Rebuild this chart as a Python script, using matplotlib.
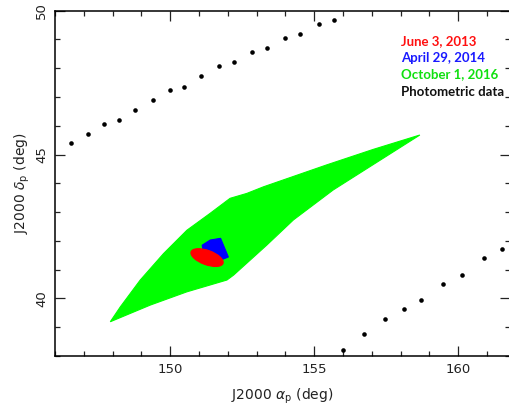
import matplotlib
matplotlib.use("Agg")
import matplotlib.pyplot as plt
from matplotlib.patches import Polygon, Ellipse
from matplotlib.ticker import MultipleLocator

# photometric data (upper and lower branches)
phot_ra = [146.57, 147.13, 147.71, 148.21, 148.79, 149.39, 149.98, 150.49, 151.08,
           151.69, 152.21, 152.83, 153.35, 153.98, 154.51, 155.16, 155.70,
           155.99, 156.73, 157.47, 158.11, 158.72, 159.49, 160.13, 160.90, 161.53]
phot_dec = [45.39, 45.72, 46.06, 46.20, 46.54, 46.90, 47.24, 47.36, 47.72,
            48.08, 48.22, 48.56, 48.71, 49.06, 49.20, 49.54, 49.68,
            38.21, 38.76, 39.30, 39.63, 39.95, 40.50, 40.82, 41.39, 41.71]

# October 1, 2016 region outline
oct_ra = [147.92, 148.27, 148.96, 149.77, 150.58, 151.39, 152.08, 152.66, 153.24,
          155.43, 157.05, 158.67, 155.66, 154.28, 153.35, 152.20, 151.97, 150.58, 149.31]
oct_dec = [39.19, 39.71, 40.64, 41.56, 42.37, 42.96, 43.48, 43.65, 43.88,
           44.64, 45.18, 45.68, 43.77, 42.73, 41.85, 40.81, 40.64, 40.23, 39.77]

# April 29, 2014 region outline
apr_ra = [151.75, 152.02, 151.49, 151.21, 151.11, 151.39]
apr_dec = [42.09, 41.44, 41.23, 41.26, 41.85, 42.03]

# June 3, 2013 region (ellipse)
jun_center = (151.28, 41.42)
jun_size = (1.18, 0.50)
jun_angle = -20

labels = ["June 3, 2013", "April 29, 2014", "October 1, 2016", "Photometric data"]
label_colors = ["#ff1010", "#1a1aff", "#10e010", "#111111"]

fig = plt.figure(figsize=(5.1, 4.13), dpi=100)
ax = fig.add_axes([55/510, 57/413, 455/510, 345.3/413])

ax.add_patch(Polygon(list(zip(oct_ra, oct_dec)), closed=True, fc="#00ff00", ec="#00ff00", lw=0.8))
ax.add_patch(Polygon(list(zip(apr_ra, apr_dec)), closed=True, fc="#0000ff", ec="#0000ff", lw=0.8))
ax.add_patch(Ellipse(jun_center, jun_size[0], jun_size[1], angle=jun_angle, fc="#ff0000", ec="#ff0000", lw=0.8))
ax.plot(phot_ra, phot_dec, "o", color="black", ms=3.3, mew=0)

ax.set_xlim(146, 161.8)
ax.set_ylim(38, 50)
ax.xaxis.set_major_locator(MultipleLocator(5))
ax.xaxis.set_minor_locator(MultipleLocator(1))
ax.yaxis.set_major_locator(MultipleLocator(5))
ax.yaxis.set_minor_locator(MultipleLocator(1))
ax.tick_params(which="both", direction="in", top=True, right=True, width=0.9, labelsize=9.5, colors="#222222")
ax.tick_params(which="major", length=7, pad=5)
ax.tick_params(which="minor", length=3.5)
for lab in ax.get_yticklabels():
    lab.set_rotation(90)
    lab.set_va("center")
for s in ax.spines.values():
    s.set_linewidth(1.1)

ax.set_xlabel(r"J2000 $\alpha_\mathrm{p}$ (deg)", fontsize=10, labelpad=8, color="#222222")
ax.set_ylabel(r"J2000 $\delta_\mathrm{p}$ (deg)", fontsize=10, labelpad=2, color="#222222")

ys = [40.7, 57.7, 74.3, 91.7]
for t, c, y in zip(labels, label_colors, ys):
    fig.text(401/510, 1 - y/413, t, color=c, fontsize=9.5, fontweight="bold",
             family="Lato", va="center", ha="left")

fig.savefig("out.png", dpi=100)
